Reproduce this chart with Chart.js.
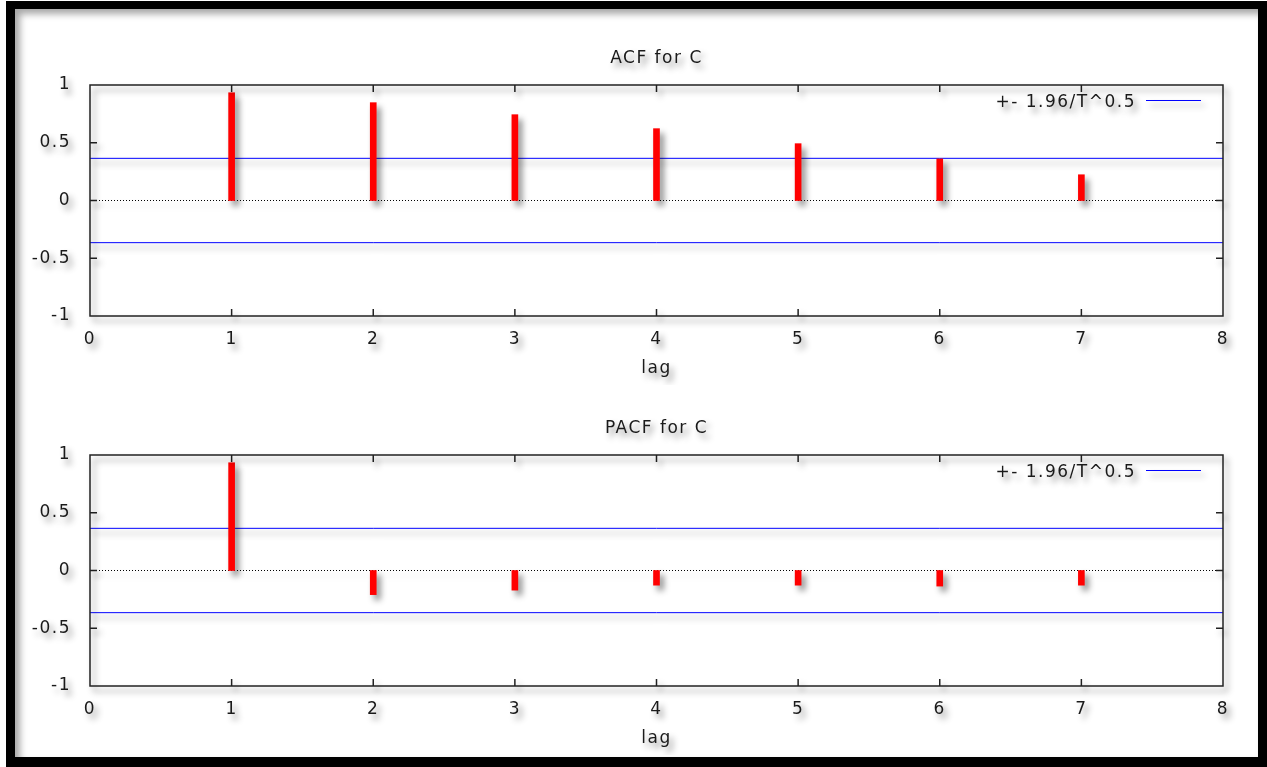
<!DOCTYPE html>
<html>
<head>
<meta charset="utf-8">
<script src="https://cdn.jsdelivr.net/npm/chart.js@4"></script>
<style>
  body { margin: 0; background: #fff; width: 1267px; height: 767px; overflow: hidden; position: relative; }
  .frame { position: absolute; left: 6px; top: 1px; width: 1243px; height: 748px;
           border: solid #000; border-width: 8px 9px 10px 9px;
           box-shadow: inset 5px 5px 7px rgba(0,0,0,0.35); }
  canvas { position: absolute; left: 15px; }
  #acf { top: 15px; }
  #pacf { top: 385px; }
</style>
</head>
<body>
<div class="frame"></div>
<canvas id="acf" width="1243" height="370"></canvas>
<canvas id="pacf" width="1243" height="370"></canvas>
<script>
// correlogram values
const lags = [1, 2, 3, 4, 5, 6, 7];
const acfValues = [0.933, 0.847, 0.743, 0.622, 0.492, 0.36, 0.223];
const pacfValues = [0.933, -0.209, -0.17, -0.127, -0.127, -0.135, -0.127];
const band = 0.365; // 1.96/sqrt(T)
const xRange = [0, 8];
const yRange = [-1, 1];
const bandLabel = '+- 1.96/T^0.5';

Chart.defaults.font.family = '"DejaVu Sans", sans-serif';
Chart.defaults.font.size = 17;
Chart.defaults.color = '#1a1a1a';

// gnuplot look: letter spacing, soft drop shadow, boxed frame with inward ticks, legend inside
const gnuplotLook = {
  id: 'gnuplotLook',
  beforeLayout(chart) {
    chart.ctx.letterSpacing = '1.5px';
  },
  beforeDraw(chart) {
    const ctx = chart.ctx;
    ctx.letterSpacing = '1.5px';
    ctx.shadowColor = 'rgba(0,0,0,0.45)';
    ctx.shadowBlur = 6;
    ctx.shadowOffsetX = 4;
    ctx.shadowOffsetY = 5;
  },
  afterDraw(chart) {
    const ctx = chart.ctx;
    const a = chart.chartArea;
    const x = chart.scales.x, y = chart.scales.y;
    ctx.save();
    ctx.strokeStyle = '#222';
    ctx.lineWidth = 1.5;
    ctx.beginPath();
    x.ticks.forEach(t => {
      const px = x.getPixelForValue(t.value);
      if (px > a.left + 1 && px < a.right - 1) {
        ctx.moveTo(px, a.bottom); ctx.lineTo(px, a.bottom - 7);
        ctx.moveTo(px, a.top); ctx.lineTo(px, a.top + 7);
      }
    });
    y.ticks.forEach(t => {
      const py = y.getPixelForValue(t.value);
      if (py > a.top + 1 && py < a.bottom - 1) {
        ctx.moveTo(a.left, py); ctx.lineTo(a.left + 7, py);
        ctx.moveTo(a.right, py); ctx.lineTo(a.right - 7, py);
      }
    });
    ctx.stroke();
    ctx.strokeRect(a.left, a.top, a.right - a.left, a.bottom - a.top);

    const ds = chart.data.datasets[1];
    ctx.font = '17px "DejaVu Sans"';
    ctx.fillStyle = '#1a1a1a';
    ctx.textAlign = 'right';
    ctx.textBaseline = 'middle';
    ctx.fillText(ds.label, a.right - 87, a.top + 18);
    ctx.strokeStyle = ds.borderColor;
    ctx.lineWidth = 1;
    ctx.beginPath();
    ctx.moveTo(a.right - 77, a.top + 15.5);
    ctx.lineTo(a.right - 22, a.top + 15.5);
    ctx.stroke();
    ctx.restore();

    ctx.shadowColor = 'rgba(0,0,0,0)';
    ctx.shadowBlur = 0;
    ctx.shadowOffsetX = 0;
    ctx.shadowOffsetY = 0;
  }
};

function makeConfig(title, values) {
  return {
    type: 'bar',
    data: {
      datasets: [{
        type: 'bar',
        data: lags.map((l, i) => ({ x: l, y: values[i] })),
        backgroundColor: '#ff0000',
        barThickness: 6
      }, {
        type: 'line',
        label: bandLabel,
        data: xRange.map(v => ({ x: v, y: band })),
        borderColor: '#0000ff',
        borderWidth: 1,
        pointRadius: 0
      }, {
        type: 'line',
        data: xRange.map(v => ({ x: v, y: -band })),
        borderColor: '#0000ff',
        borderWidth: 1,
        pointRadius: 0
      }, {
        type: 'line',
        data: xRange.map(v => ({ x: v, y: 0 })),
        borderColor: '#000',
        borderWidth: 1,
        borderDash: [1, 2],
        pointRadius: 0
      }]
    },
    options: {
      responsive: false,
      animation: false,
      layout: { padding: { left: 0, right: 35, top: 0, bottom: 0 } },
      scales: {
        x: {
          type: 'linear',
          min: xRange[0],
          max: xRange[1],
          offset: false,
          grid: { display: false },
          border: { display: false },
          ticks: { stepSize: 1, padding: 5, callback: v => String(v) },
          title: { display: true, text: 'lag', padding: { top: 0, bottom: 6 } },
          afterFit(s) { s.height = 69; }
        },
        y: {
          min: yRange[0],
          max: yRange[1],
          grid: { display: false },
          border: { display: false },
          ticks: { stepSize: 0.5, padding: 11, callback: v => String(v) },
          afterFit(s) { s.width = 75; }
        }
      },
      plugins: {
        legend: { display: false },
        tooltip: { enabled: false },
        title: {
          display: true,
          text: title,
          fullSize: false,
          color: '#1a1a1a',
          font: { size: 17, weight: 'normal' },
          padding: { top: 33, bottom: 16.6 }
        }
      }
    },
    plugins: [gnuplotLook]
  };
}

new Chart(document.getElementById('acf').getContext('2d'), makeConfig('ACF for C', acfValues));
new Chart(document.getElementById('pacf').getContext('2d'), makeConfig('PACF for C', pacfValues));
</script>
</body>
</html>
